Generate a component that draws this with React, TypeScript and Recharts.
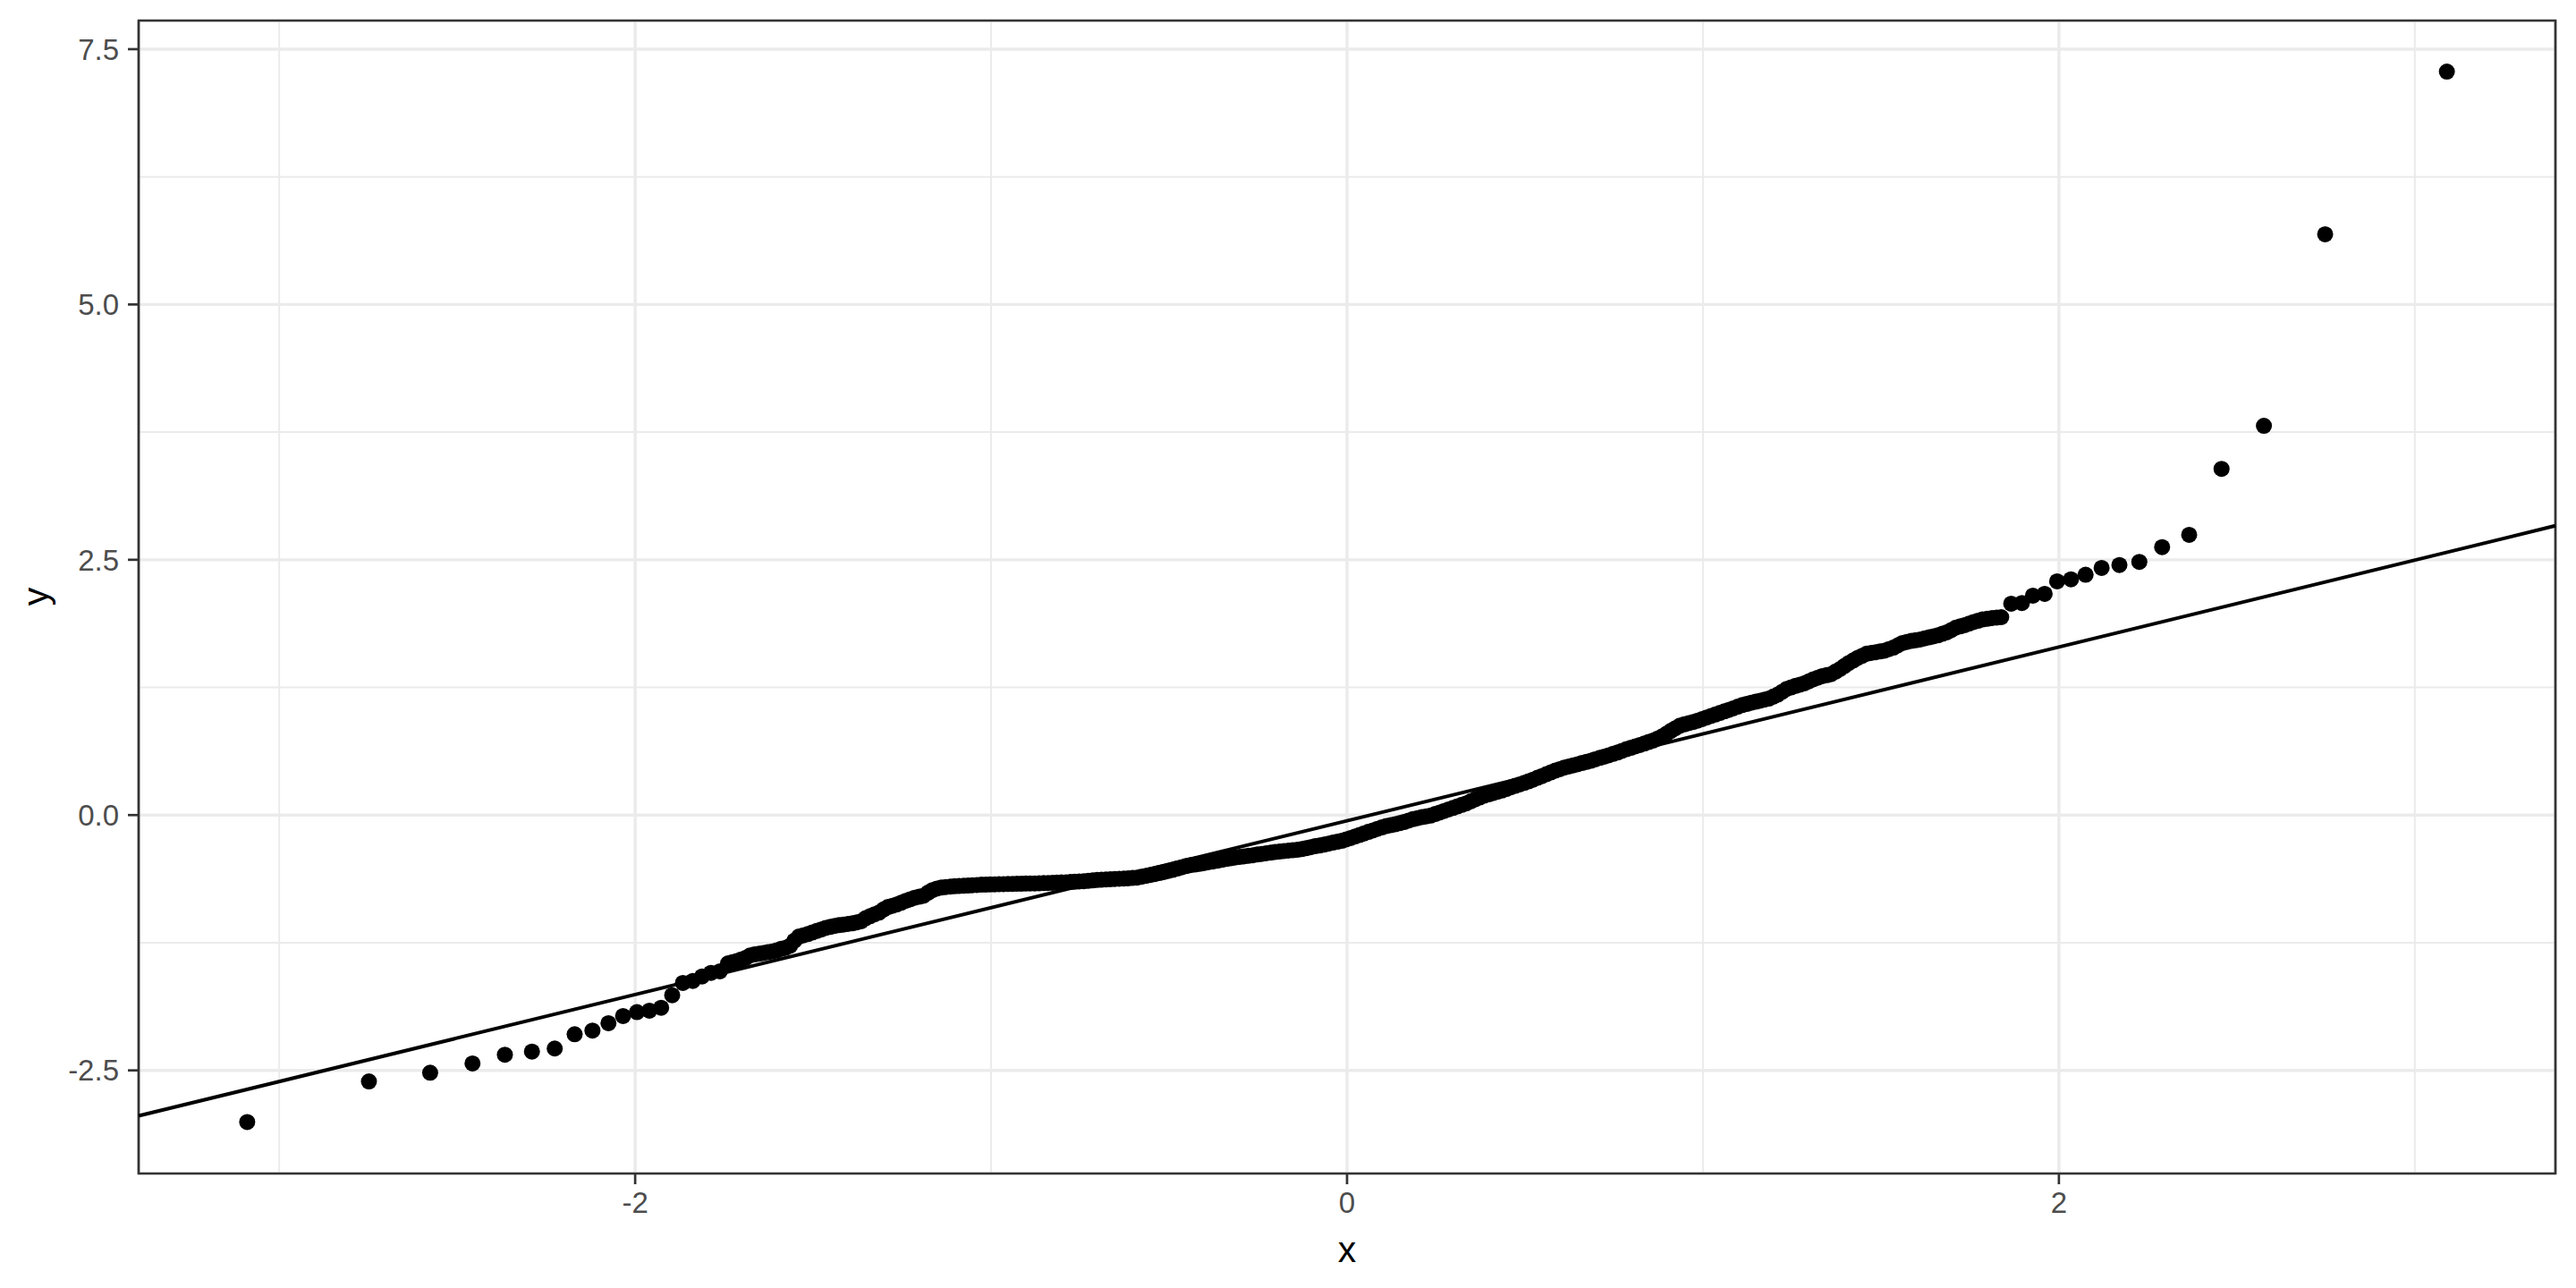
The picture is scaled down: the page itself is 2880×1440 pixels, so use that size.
import { ScatterChart, Scatter, XAxis, YAxis, CartesianGrid, ReferenceLine, ReferenceArea } from "recharts";

// sample quantiles vs theoretical quantiles (n = 500)
const lowerTail: [number, number][] = [
  [-3.090, -3.006], [-2.748, -2.608], [-2.576, -2.523], [-2.457, -2.432], [-2.366, -2.347],
  [-2.290, -2.316], [-2.226, -2.286], [-2.170, -2.146], [-2.120, -2.110], [-2.075, -2.038],
  [-2.034, -1.968], [-1.995, -1.930], [-1.960, -1.915], [-1.927, -1.887], [-1.896, -1.764],
  [-1.866, -1.644], [-1.838, -1.624], [-1.812, -1.580], [-1.787, -1.545], [-1.762, -1.530],
  [-1.739, -1.452],
];

// the dense middle part, where the points merge into a band
const body: [number, number][] = [
  [-1.727, -1.44], [-1.715, -1.43], [-1.7025, -1.415], [-1.690, -1.40], [-1.6775, -1.375],
  [-1.665, -1.365], [-1.6525, -1.358], [-1.640, -1.35], [-1.6275, -1.343], [-1.615, -1.335],
  [-1.6025, -1.325], [-1.590, -1.31], [-1.5775, -1.30], [-1.565, -1.28], [-1.5525, -1.23],
  [-1.540, -1.19], [-1.5275, -1.178], [-1.515, -1.165], [-1.5025, -1.15], [-1.490, -1.135],
  [-1.4775, -1.12], [-1.465, -1.105], [-1.4525, -1.095], [-1.440, -1.085], [-1.4275, -1.078],
  [-1.415, -1.072], [-1.4025, -1.066], [-1.390, -1.06], [-1.3775, -1.05], [-1.365, -1.04],
  [-1.3525, -1.01], [-1.340, -0.99], [-1.3275, -0.972], [-1.315, -0.955], [-1.3025, -0.925],
  [-1.290, -0.90], [-1.2775, -0.888], [-1.265, -0.875], [-1.2525, -0.858], [-1.240, -0.84],
  [-1.2275, -0.825], [-1.215, -0.81], [-1.2025, -0.80], [-1.190, -0.79], [-1.1775, -0.76],
  [-1.165, -0.735], [-1.1525, -0.72], [-1.140, -0.71], [-1.1275, -0.705], [-1.115, -0.70],
  [-1.1025, -0.697], [-1.090, -0.695], [-1.0775, -0.692], [-1.065, -0.69], [-1.0525, -0.687],
  [-1.040, -0.685], [-1.0275, -0.682], [-1.015, -0.68], [-1.0025, -0.679], [-0.990, -0.678],
  [-0.9775, -0.677], [-0.965, -0.676], [-0.9525, -0.675], [-0.940, -0.674], [-0.9275, -0.673],
  [-0.915, -0.672], [-0.9025, -0.671], [-0.890, -0.67], [-0.8775, -0.669], [-0.865, -0.668],
  [-0.8525, -0.666], [-0.840, -0.665], [-0.8275, -0.663], [-0.815, -0.662], [-0.8025, -0.66],
  [-0.790, -0.658], [-0.7775, -0.655], [-0.765, -0.653], [-0.7525, -0.65], [-0.740, -0.648],
  [-0.7275, -0.644], [-0.715, -0.64], [-0.7025, -0.636], [-0.690, -0.633], [-0.6775, -0.63],
  [-0.665, -0.628], [-0.6525, -0.626], [-0.640, -0.624], [-0.6275, -0.621], [-0.615, -0.619],
  [-0.6025, -0.616], [-0.590, -0.613], [-0.5775, -0.604], [-0.565, -0.595], [-0.5525, -0.586],
  [-0.540, -0.578], [-0.5275, -0.568], [-0.515, -0.558], [-0.5025, -0.547], [-0.490, -0.537],
  [-0.4775, -0.524], [-0.465, -0.512], [-0.4525, -0.50], [-0.440, -0.49], [-0.4275, -0.484],
  [-0.415, -0.478], [-0.4025, -0.47], [-0.390, -0.462], [-0.3775, -0.455], [-0.365, -0.447],
  [-0.3525, -0.438], [-0.340, -0.43], [-0.3275, -0.423], [-0.315, -0.416], [-0.3025, -0.41],
  [-0.290, -0.405], [-0.2775, -0.399], [-0.265, -0.393], [-0.2525, -0.386], [-0.240, -0.38],
  [-0.2275, -0.374], [-0.215, -0.368], [-0.2025, -0.362], [-0.190, -0.357], [-0.1775, -0.352],
  [-0.165, -0.348], [-0.1525, -0.344], [-0.140, -0.34], [-0.1275, -0.333], [-0.115, -0.325],
  [-0.1025, -0.315], [-0.090, -0.305], [-0.0775, -0.298], [-0.065, -0.29], [-0.0525, -0.28],
  [-0.040, -0.27], [-0.0275, -0.261], [-0.015, -0.252], [-0.0025, -0.238], [0.010, -0.225],
  [0.0225, -0.21], [0.035, -0.195], [0.0475, -0.18], [0.060, -0.165], [0.0725, -0.15],
  [0.085, -0.135], [0.0975, -0.121], [0.110, -0.108], [0.1225, -0.099], [0.135, -0.09],
  [0.1475, -0.079], [0.160, -0.068], [0.1725, -0.054], [0.185, -0.04], [0.1975, -0.03],
  [0.210, -0.02], [0.2225, -0.012], [0.235, -0.005], [0.2475, 0.01], [0.260, 0.025],
  [0.2725, 0.04], [0.285, 0.055], [0.2975, 0.07], [0.310, 0.085], [0.3225, 0.10],
  [0.335, 0.115], [0.3475, 0.135], [0.360, 0.155], [0.3725, 0.172], [0.385, 0.19],
  [0.3975, 0.203], [0.410, 0.215], [0.4225, 0.228], [0.435, 0.24], [0.4475, 0.256],
  [0.460, 0.272], [0.4725, 0.286], [0.485, 0.30], [0.4975, 0.315], [0.510, 0.33],
  [0.5225, 0.347], [0.535, 0.365], [0.5475, 0.382], [0.560, 0.40], [0.5725, 0.418],
  [0.585, 0.435], [0.5975, 0.45], [0.610, 0.465], [0.6225, 0.476], [0.635, 0.487],
  [0.6475, 0.498], [0.660, 0.51], [0.6725, 0.521], [0.685, 0.532], [0.6975, 0.546],
  [0.710, 0.56], [0.7225, 0.572], [0.735, 0.585], [0.7475, 0.599], [0.760, 0.613],
  [0.7725, 0.629], [0.785, 0.645], [0.7975, 0.659], [0.810, 0.673], [0.8225, 0.686],
  [0.835, 0.70], [0.8475, 0.715], [0.860, 0.73], [0.8725, 0.75], [0.885, 0.77],
  [0.8975, 0.797], [0.910, 0.825], [0.9225, 0.85], [0.935, 0.875], [0.9475, 0.888],
  [0.960, 0.90], [0.9725, 0.912], [0.985, 0.925], [0.9975, 0.94], [1.010, 0.955],
  [1.0225, 0.97], [1.035, 0.985], [1.0475, 1.0], [1.060, 1.015], [1.0725, 1.03],
  [1.085, 1.045], [1.0975, 1.061], [1.110, 1.077], [1.1225, 1.088], [1.135, 1.10],
  [1.1475, 1.11], [1.160, 1.12], [1.1725, 1.13], [1.185, 1.14], [1.1975, 1.16],
  [1.210, 1.18], [1.2225, 1.207], [1.235, 1.235], [1.2475, 1.25], [1.260, 1.265],
  [1.2725, 1.277], [1.285, 1.29], [1.2975, 1.31], [1.310, 1.33], [1.3225, 1.345],
  [1.335, 1.36], [1.3475, 1.37], [1.360, 1.38], [1.3725, 1.405], [1.385, 1.43],
  [1.3975, 1.46], [1.410, 1.49], [1.4225, 1.515], [1.435, 1.54], [1.4475, 1.56],
  [1.460, 1.58], [1.4725, 1.588], [1.485, 1.595], [1.4975, 1.602], [1.510, 1.61],
  [1.5225, 1.625], [1.535, 1.64], [1.5475, 1.662], [1.560, 1.685], [1.5725, 1.695],
  [1.585, 1.705], [1.5975, 1.712], [1.610, 1.72], [1.6225, 1.73], [1.635, 1.74],
  [1.6475, 1.75], [1.660, 1.76], [1.6725, 1.775], [1.685, 1.79], [1.6975, 1.812],
  [1.710, 1.835], [1.7225, 1.848], [1.735, 1.86], [1.7475, 1.875], [1.760, 1.89],
  [1.7725, 1.902], [1.785, 1.915], [1.7985, 1.922], [1.812, 1.93], [1.825, 1.934],
  [1.838, 1.938],
];

const upperTail: [number, number][] = [
  [1.866, 2.070], [1.896, 2.076], [1.927, 2.149], [1.960, 2.166], [1.995, 2.289],
  [2.034, 2.309], [2.075, 2.353], [2.120, 2.420], [2.170, 2.449], [2.226, 2.479],
  [2.290, 2.624], [2.366, 2.744], [2.457, 3.390], [2.576, 3.812], [2.748, 5.687],
  [3.090, 7.280],
];

// reference line through the quartiles, spanning the panel
const fitLine = [
  { x: -3.395, y: -2.945 },
  { x: 3.395, y: 2.833 },
];

const xTicks = [-2, 0, 2];
const yTicks = [-2.5, 0, 2.5, 5, 7.5];
const xMinor = [-3, -1, 1, 3];
const yMinor = [-1.25, 1.25, 3.75, 6.25];
const xDomain: [number, number] = [-3.395, 3.395];
const yDomain: [number, number] = [-3.51, 7.78];

const points = [...lowerTail, ...body, ...upperTail].map(([x, y]) => ({ x, y }));

const FONT = "'Liberation Sans', Arial, Helvetica, sans-serif";

const Dot = (props: any) => <circle cx={props.cx} cy={props.cy} r={9} fill="#000000" />;

export default function App() {
  return (
    <div style={{ position: "absolute", left: 0, top: 0, width: 2880, height: 1440, background: "#fff" }}>
      <ScatterChart width={2880} height={1440} margin={{ top: 23, right: 23, left: 0, bottom: 0 }}>
        <CartesianGrid
          stroke="#EBEBEB"
          strokeWidth={2}
          verticalValues={xMinor}
          horizontalValues={yMinor}
        />
        <CartesianGrid stroke="#EBEBEB" strokeWidth={3.4} />
        <XAxis
          type="number"
          dataKey="x"
          domain={xDomain}
          ticks={xTicks}
          allowDataOverflow
          height={128}
          axisLine={false}
          tickSize={12}
          tickMargin={9}
          tickLine={{ stroke: "#333333", strokeWidth: 2.7 }}
          tick={{ fill: "#4D4D4D", fontSize: 33, fontFamily: FONT }}
          tickFormatter={(v: number) => String(v)}
        />
        <YAxis
          type="number"
          dataKey="y"
          domain={yDomain}
          ticks={yTicks}
          allowDataOverflow
          width={155}
          axisLine={false}
          tickSize={12}
          tickMargin={10}
          tickLine={{ stroke: "#333333", strokeWidth: 2.7 }}
          tick={{ fill: "#4D4D4D", fontSize: 33, fontFamily: FONT }}
          tickFormatter={(v: number) => v.toFixed(1)}
        />
        <Scatter data={points} shape={Dot} isAnimationActive={false} />
        <ReferenceLine segment={fitLine} stroke="#000000" strokeWidth={4} />
        <ReferenceArea
          x1={xDomain[0]}
          x2={xDomain[1]}
          y1={yDomain[0]}
          y2={yDomain[1]}
          fill="none"
          stroke="#333333"
          strokeWidth={2.7}
        />
      </ScatterChart>
      <svg width={2880} height={1440} style={{ position: "absolute", left: 0, top: 0, pointerEvents: "none" }}>
        <text x={1506} y={1411} textAnchor="middle" fontSize={41} fontFamily={FONT} fill="#000">
          x
        </text>
        <text transform="translate(54,667) rotate(-90)" textAnchor="middle" fontSize={41} fontFamily={FONT} fill="#000">
          y
        </text>
      </svg>
    </div>
  );
}
